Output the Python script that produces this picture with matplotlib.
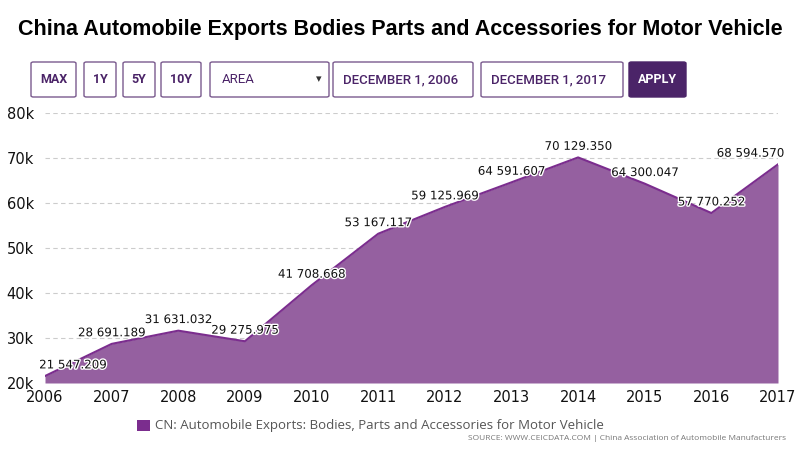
import matplotlib
matplotlib.use("Agg")
import matplotlib.pyplot as plt
import matplotlib.patheffects as pe
from matplotlib.patches import Rectangle, FancyBboxPatch

# data
years = [2006, 2007, 2008, 2009, 2010, 2011, 2012, 2013, 2014, 2015, 2016, 2017]
values = [21547.209, 28691.189, 31631.032, 29275.975, 41708.668, 53167.117,
          59125.969, 64591.607, 70129.350, 64300.047, 57770.252, 68594.570]
labels = ["21 547.209", "28 691.189", "31 631.032", "29 275.975", "41 708.668",
          "53 167.117", "59 125.969", "64 591.607", "70 129.350", "64 300.047",
          "57 770.252", "68 594.570"]
y_ticks = [20000, 30000, 40000, 50000, 60000, 70000, 80000]
y_ticklabels = ["20k", "30k", "40k", "50k", "60k", "70k", "80k"]
buttons = ["MAX", "1Y", "5Y", "10Y", "AREA", "DECEMBER 1, 2006", "DECEMBER 1, 2017", "APPLY"]

W, H = 800, 462
fig = plt.figure(figsize=(8, 4.62), dpi=100)
plt.rcParams['font.family'] = ['DejaVu Sans']

fig.text(400 / W, 1 - 29 / H, "China Automobile Exports Bodies Parts and Accessories for Motor Vehicle",
         ha="center", va="center", fontsize=15.5, fontweight="bold", family="Liberation Sans")

# control buttons (pixel boxes)
btn_boxes = [(31, 76), (84, 116), (123, 155), (161, 201), (210, 329), (333, 473), (481, 623), (629, 686)]
for name, (x0, x1) in zip(buttons, btn_boxes):
    apply_btn = name == "APPLY"
    fig.patches.append(FancyBboxPatch((x0 / W, 1 - 97 / H), (x1 - x0) / W, 35 / H,
                                      boxstyle="round,pad=0,rounding_size=0.003",
                                      transform=fig.transFigure,
                                      facecolor="#4b2468" if apply_btn else "white",
                                      edgecolor="#4b2468" if apply_btn else "#7a5a8e", lw=1))
    if name == "AREA":
        fig.text((x0 + 12) / W, 1 - 79.5 / H, name, ha="left", va="center", fontsize=9.5,
                 color="#4b2468", family="Roboto")
        fig.text((x1 - 10) / W, 1 - 79.5 / H, "▾", ha="center", va="center", fontsize=8,
                 color="#333333")
    elif name.startswith("DECEMBER"):
        fig.text((x0 + 10) / W, 1 - 79.5 / H, name, ha="left", va="center", fontsize=9.5,
                 color="#4b2468", family="Roboto", fontweight="medium")
    else:
        fig.text((x0 + x1) / 2 / W, 1 - 79.5 / H, name, ha="center", va="center", fontsize=9,
                 color="white" if apply_btn else "#4b2468", fontweight="bold", family="Roboto")

ax = fig.add_axes([45 / W, 1 - 383 / H, 733 / W, 270 / H])
ax.fill_between(years, values, 20000, color="#9560a0", lw=0)
ax.plot(years, values, color="#7b2d8e", lw=1.5)
ax.set_xlim(2006, 2017)
ax.set_ylim(20000, 80000)
ax.set_yticks(y_ticks)
ax.set_yticklabels(y_ticklabels)
ax.set_xticks(years)
ax.set_xticklabels([str(y) for y in years])
ax.tick_params(length=0, labelsize=10.5, colors="#111111")
ax.tick_params(axis="y", pad=8)
ax.tick_params(axis="x", pad=5)
ax.grid(axis="y", color="#cccccc", ls=(0, (4, 3)), lw=0.8)
ax.set_axisbelow(True)
for s in ax.spines.values():
    s.set_visible(False)

for i, (x, v, lab) in enumerate(zip(years, values, labels)):
    dx = 0
    if i == 0:
        dx = 20
    elif i == len(years) - 1:
        dx = -20
    ax.annotate(lab, (x, v), xytext=(dx, 8), textcoords="offset points", ha="center", va="center",
                fontsize=8.5, color="#111111",
                path_effects=[pe.withStroke(linewidth=2, foreground="white")])

# legend
fig.patches.append(Rectangle((137 / W, 1 - 431 / H), 13 / W, 11 / H, transform=fig.transFigure,
                             facecolor="#7b2d8e", edgecolor="none"))
fig.text(155 / W, 1 - 425 / H, "CN: Automobile Exports: Bodies, Parts and Accessories for Motor Vehicle",
         ha="left", va="center", fontsize=9.5, color="#555555", family="Open Sans")
fig.text(786 / W, 1 - 439 / H, "SOURCE: WWW.CEICDATA.COM | China Association of Automobile Manufacturers",
         ha="right", va="center", fontsize=6, color="#777777", family="Open Sans")

fig.savefig("out.png", dpi=100)
